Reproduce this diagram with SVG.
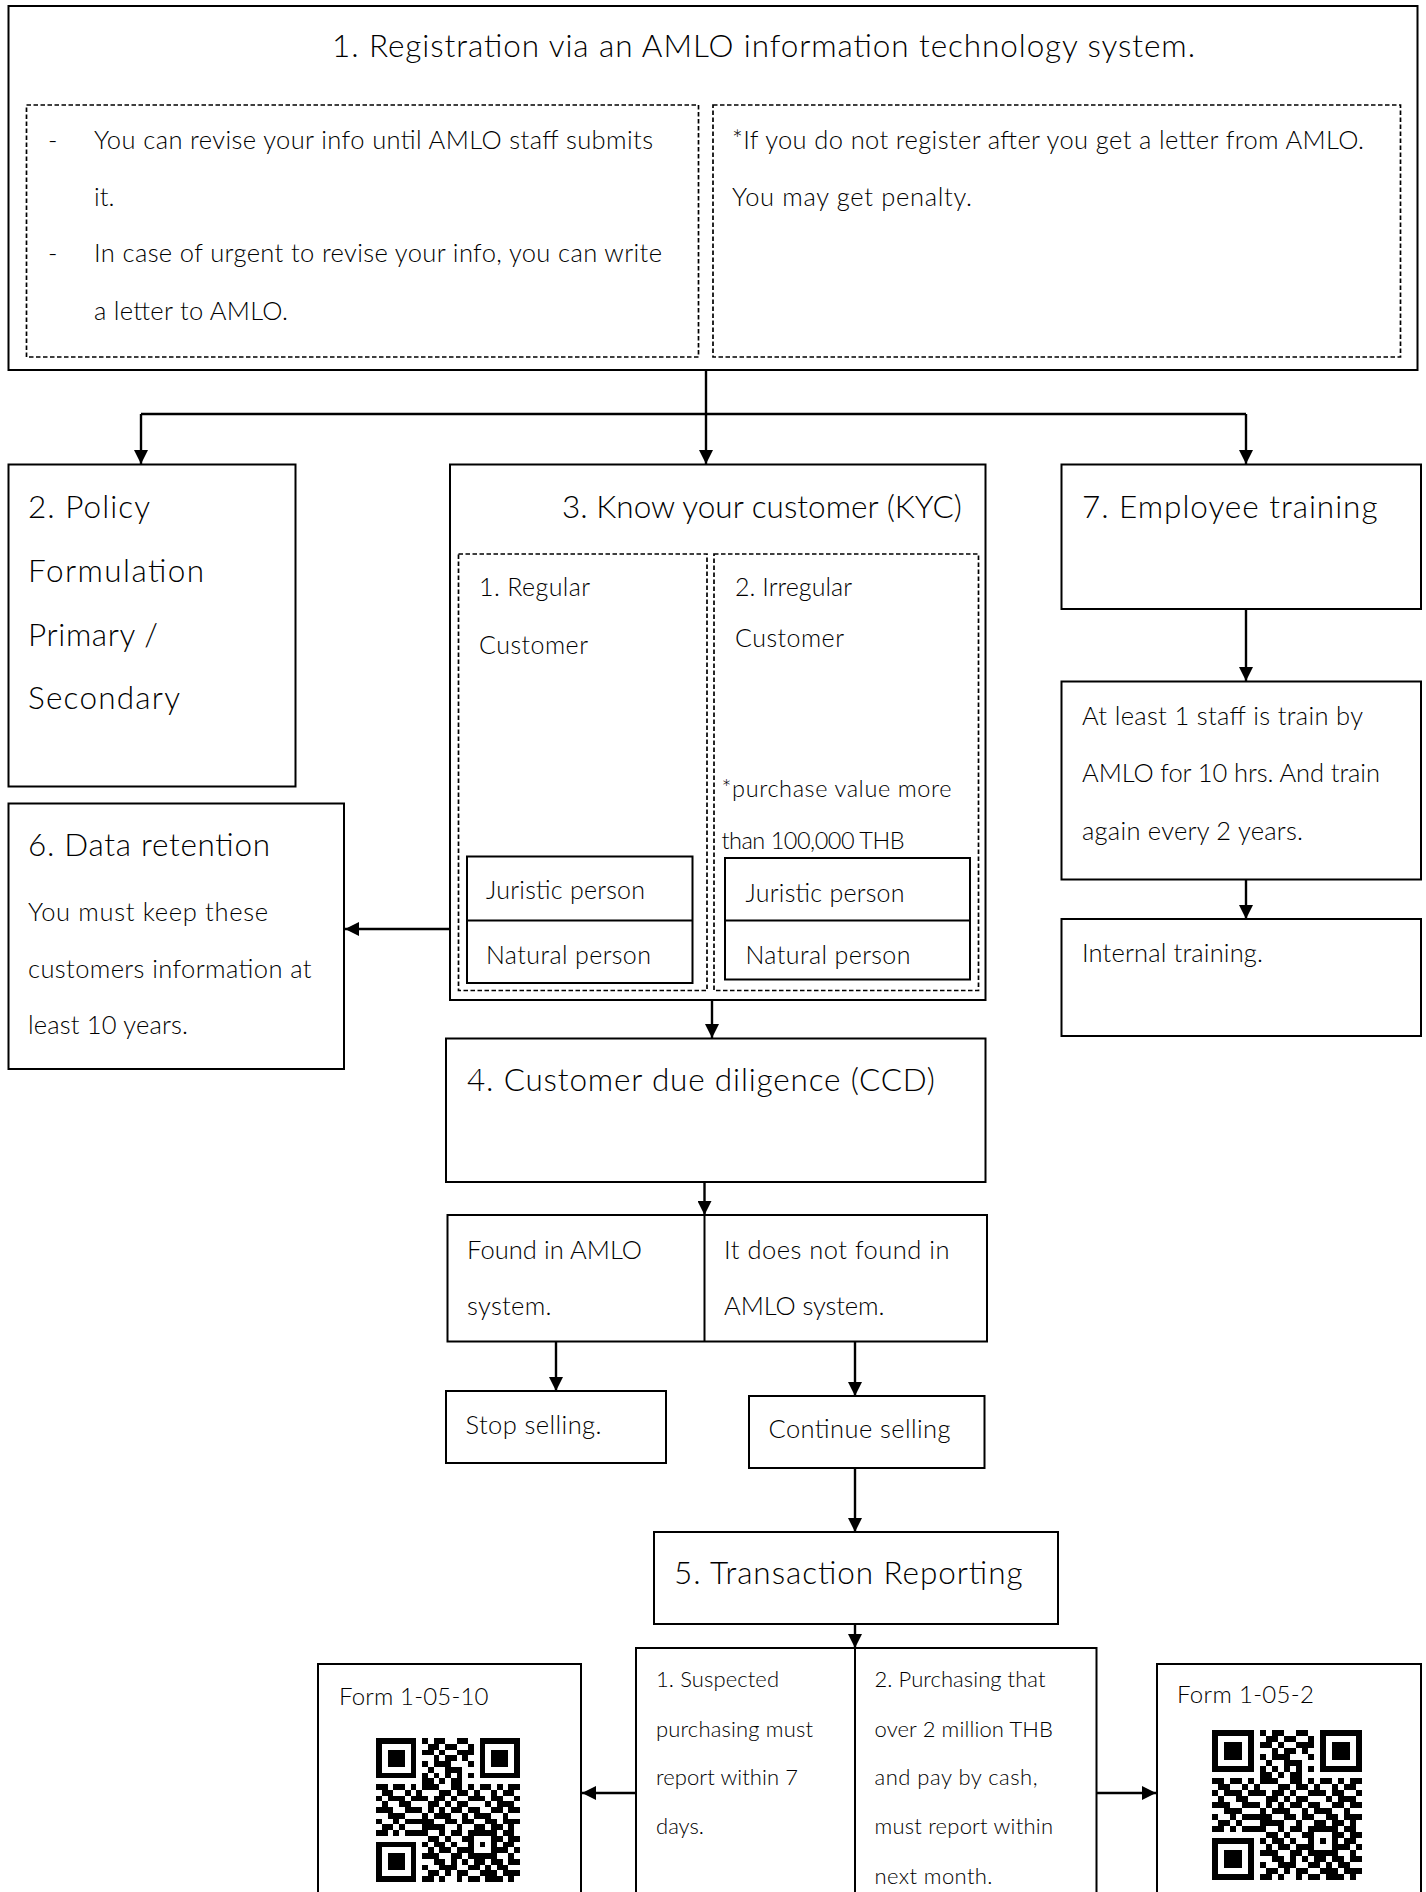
<svg xmlns="http://www.w3.org/2000/svg" xmlns:xlink="http://www.w3.org/1999/xlink" width="1426" height="1892" viewBox="0 0 1426 1892">
<style>
.box{fill:#fff;stroke:#000;stroke-width:2}
.nofill{fill:none;stroke:#000;stroke-width:2}
.dash{fill:none;stroke:#000;stroke-width:1.7;stroke-dasharray:4.5 2.5}
.conn{fill:none;stroke:#000;stroke-width:2.4}
.arr{marker-end:url(#arrow)}
text{font-family:Lato,"Noto Sans","DejaVu Sans",sans-serif;font-weight:300;fill:#000}
.t32{font-size:31.5px}
.tb{font-size:25.5px}
.t25{font-size:25px}
.t23{font-size:23.5px}
.t22{font-size:22px}
.t24{font-size:24px}
</style>
<defs>
<marker id="arrow" markerUnits="userSpaceOnUse" markerWidth="14" markerHeight="14" refX="14" refY="7" orient="auto">
<path d="M0,0 L14,7 L0,14 z" fill="#000"/>
</marker>
<g id="qr" shape-rendering="crispEdges" fill="#000">
<path d="M0 0h7v1h-7zM8 0h1v1h-1zM10 0h2v1h-2zM14 0h2v1h-2zM18 0h7v1h-7z
M0 1h1v1h-1zM6 1h1v1h-1zM9 1h2v1h-2zM12 1h2v1h-2zM16 1h1v1h-1zM18 1h1v1h-1zM24 1h1v1h-1z
M0 2h1v1h-1zM2 2h3v1h-3zM6 2h1v1h-1zM8 2h2v1h-2zM11 2h1v1h-1zM14 2h3v1h-3zM18 2h1v1h-1zM20 2h3v1h-3zM24 2h1v1h-1z
M0 3h1v1h-1zM2 3h3v1h-3zM6 3h1v1h-1zM10 3h1v1h-1zM12 3h2v1h-2zM15 3h1v1h-1zM18 3h1v1h-1zM20 3h3v1h-3zM24 3h1v1h-1z
M0 4h1v1h-1zM2 4h3v1h-3zM6 4h1v1h-1zM8 4h1v1h-1zM10 4h3v1h-3zM16 4h1v1h-1zM18 4h1v1h-1zM20 4h3v1h-3zM24 4h1v1h-1z
M0 5h1v1h-1zM6 5h1v1h-1zM9 5h1v1h-1zM12 5h3v1h-3zM18 5h1v1h-1zM24 5h1v1h-1z
M0 6h7v1h-7zM8 6h1v1h-1zM10 6h1v1h-1zM12 6h1v1h-1zM14 6h1v1h-1zM16 6h1v1h-1zM18 6h7v1h-7z
M8 7h2v1h-2zM11 7h1v1h-1zM13 7h2v1h-2z
M0 8h2v1h-2zM3 8h2v1h-2zM6 8h1v1h-1zM8 8h3v1h-3zM13 8h2v1h-2zM16 8h1v1h-1zM18 8h2v1h-2zM21 8h1v1h-1zM23 8h2v1h-2z
M1 9h2v1h-2zM5 9h1v1h-1zM7 9h1v1h-1zM11 9h2v1h-2zM14 9h2v1h-2zM17 9h1v1h-1zM20 9h1v1h-1zM22 9h2v1h-2z
M0 10h1v1h-1zM2 10h3v1h-3zM6 10h3v1h-3zM10 10h2v1h-2zM13 10h1v1h-1zM16 10h3v1h-3zM20 10h2v1h-2zM24 10h1v1h-1z
M1 11h1v1h-1zM4 11h2v1h-2zM9 11h2v1h-2zM12 11h1v1h-1zM14 11h2v1h-2zM19 11h1v1h-1zM21 11h3v1h-3z
M0 12h3v1h-3zM5 12h3v1h-3zM9 12h1v1h-1zM11 12h1v1h-1zM13 12h2v1h-2zM16 12h2v1h-2zM20 12h2v1h-2zM23 12h2v1h-2z
M2 13h3v1h-3zM8 13h1v1h-1zM10 13h3v1h-3zM15 13h1v1h-1zM17 13h3v1h-3zM22 13h1v1h-1z
M0 14h1v1h-1zM3 14h1v1h-1zM5 14h5v1h-5zM12 14h2v1h-2zM15 14h2v1h-2zM19 14h2v1h-2zM22 14h3v1h-3z
M1 15h2v1h-2zM4 15h1v1h-1zM8 15h4v1h-4zM14 15h1v1h-1zM17 15h2v1h-2zM20 15h2v1h-2zM23 15h1v1h-1z
M0 16h2v1h-2zM3 16h1v1h-1zM5 16h4v1h-4zM11 16h1v1h-1zM13 16h2v1h-2zM16 16h5v1h-5zM22 16h2v1h-2z
M9 17h2v1h-2zM12 17h1v1h-1zM15 17h2v1h-2zM20 17h2v1h-2zM23 17h2v1h-2z
M0 18h7v1h-7zM8 18h1v1h-1zM10 18h2v1h-2zM13 18h1v1h-1zM16 18h1v1h-1zM18 18h1v1h-1zM20 18h1v1h-1zM22 18h2v1h-2z
M0 19h1v1h-1zM6 19h1v1h-1zM9 19h1v1h-1zM11 19h2v1h-2zM14 19h3v1h-3zM20 19h3v1h-3zM24 19h1v1h-1z
M0 20h1v1h-1zM2 20h3v1h-3zM6 20h1v1h-1zM8 20h3v1h-3zM13 20h2v1h-2zM16 20h5v1h-5zM23 20h1v1h-1z
M0 21h1v1h-1zM2 21h3v1h-3zM6 21h1v1h-1zM10 21h2v1h-2zM13 21h1v1h-1zM15 21h1v1h-1zM17 21h2v1h-2zM20 21h2v1h-2zM23 21h2v1h-2z
M0 22h1v1h-1zM2 22h3v1h-3zM6 22h1v1h-1zM8 22h1v1h-1zM11 22h3v1h-3zM16 22h2v1h-2zM19 22h1v1h-1zM21 22h2v1h-2z
M0 23h1v1h-1zM6 23h1v1h-1zM9 23h2v1h-2zM12 23h1v1h-1zM14 23h2v1h-2zM18 23h3v1h-3zM22 23h3v1h-3z
M0 24h7v1h-7zM8 24h2v1h-2zM11 24h1v1h-1zM14 24h1v1h-1zM16 24h2v1h-2zM19 24h3v1h-3zM23 24h1v1h-1z"/>
</g>
</defs>
<rect width="1426" height="1892" fill="#fff"/>

<g id="connectors">
<path class="conn" d="M141 414H1246"/>
<path class="conn arr" d="M706 370V464"/>
<path class="conn arr" d="M141 414V464"/>
<path class="conn arr" d="M1246 414V464"/>
<path class="conn arr" d="M450 929H345"/>
<path class="conn arr" d="M1246 609V681"/>
<path class="conn arr" d="M1246 880V919"/>
<path class="conn arr" d="M712 1000V1038"/>
<path class="conn arr" d="M704.5 1182V1215"/>
<path class="conn arr" d="M556 1342V1391"/>
<path class="conn arr" d="M855 1342V1396"/>
<path class="conn arr" d="M855 1468V1532"/>
<path class="conn arr" d="M855 1624V1648"/>
<path class="conn arr" d="M636 1793H582"/>
<path class="conn arr" d="M1096.5 1793H1156"/>
</g>

<g id="node1">
<rect class="box" x="8.5" y="6" width="1409" height="364"/>
<text class="t32" x="332" y="57" textLength="863">1. Registration via an AMLO information technology system.</text>
<rect class="dash" x="26.5" y="105" width="672" height="252"/>
<rect class="dash" x="713" y="105" width="687.5" height="252"/>
<text class="tb" x="48" y="149">-</text>
<text class="tb" x="94" y="149" textLength="559">You can revise your info until AMLO staff submits</text>
<text class="tb" x="94" y="206">it.</text>
<text class="tb" x="48" y="262">-</text>
<text class="tb" x="94" y="262" textLength="568">In case of urgent to revise your info, you can write</text>
<text class="tb" x="94" y="320" textLength="194">a letter to AMLO.</text>
<text class="tb" x="732" y="149" textLength="632">*If you do not register after you get a letter from AMLO.</text>
<text class="tb" x="732" y="206" textLength="240">You may get penalty.</text>
</g>

<g id="node2">
<rect class="box" x="8.5" y="464.5" width="287" height="322"/>
<text class="t32" x="28" y="518" textLength="122">2. Policy</text>
<text class="t32" x="28" y="582" textLength="176">Formulation</text>
<text class="t32" x="28" y="646" textLength="130">Primary /</text>
<text class="t32" x="28" y="709" textLength="152">Secondary</text>
</g>

<g id="node3">
<rect class="box" x="450" y="464.5" width="535.5" height="535.5"/>
<text class="t32" x="562" y="518" textLength="400">3. Know your customer (KYC)</text>
<rect class="dash" x="458.5" y="554" width="248.5" height="436.5"/>
<rect class="dash" x="714" y="554" width="264.5" height="436.5"/>
<text class="t25" x="479" y="596" textLength="111">1. Regular</text>
<text class="t25" x="479" y="653.5" textLength="109">Customer</text>
<rect class="nofill" x="467" y="856.5" width="225.5" height="126.5"/>
<path class="nofill" d="M467 920.5H692.5"/>
<text class="t25" x="486" y="898.5" textLength="159">Juristic person</text>
<text class="t25" x="486" y="963.5" textLength="165">Natural person</text>
<text class="t25" x="735" y="596" textLength="117">2. Irregular</text>
<text class="t25" x="735" y="646.5" textLength="109">Customer</text>
<text class="t23" x="721.5" y="797" textLength="230">*purchase value more</text>
<text class="t23" x="721.5" y="849" textLength="183">than 100,000 THB</text>
<rect class="nofill" x="725" y="858" width="245" height="121.5"/>
<path class="nofill" d="M725 920.5H970"/>
<text class="t25" x="745.5" y="901.5" textLength="159">Juristic person</text>
<text class="t25" x="745.5" y="964" textLength="165">Natural person</text>
</g>

<g id="node6">
<rect class="box" x="8.5" y="803.5" width="335.5" height="265.5"/>
<text class="t32" x="28" y="855.5" textLength="242">6. Data retention</text>
<text class="tb" x="28" y="920.5" textLength="240">You must keep these</text>
<text class="tb" x="28" y="977.5" textLength="283.5">customers information at</text>
<text class="tb" x="28" y="1033.5" textLength="160">least 10 years.</text>
</g>

<g id="node7">
<rect class="box" x="1061.5" y="464.5" width="359.5" height="144.5"/>
<text class="t32" x="1082" y="518" textLength="295.5">7. Employee training</text>
</g>

<g id="node7a">
<rect class="box" x="1061.5" y="681.5" width="359.5" height="198"/>
<text class="tb" x="1082" y="725" textLength="281">At least 1 staff is train by</text>
<text class="tb" x="1082" y="782" textLength="298">AMLO for 10 hrs. And train</text>
<text class="tb" x="1082" y="839.5" textLength="221">again every 2 years.</text>
</g>

<g id="node7b">
<rect class="box" x="1061.5" y="919" width="359.5" height="117"/>
<text class="tb" x="1082" y="961.5" textLength="181">Internal training.</text>
</g>

<g id="node4">
<rect class="box" x="446" y="1038.5" width="539.5" height="143.5"/>
<text class="t32" x="467" y="1091" textLength="468">4. Customer due diligence (CCD)</text>
</g>

<g id="node4a">
<rect class="box" x="447.5" y="1215" width="539.5" height="126.5"/>
<path class="nofill" d="M704.5 1215V1341.5"/>
<text class="tb" x="467" y="1258.5" textLength="175">Found in AMLO</text>
<text class="tb" x="467" y="1315" textLength="84.5">system.</text>
<text class="tb" x="724" y="1258.5" textLength="225.5">It does not found in</text>
<text class="tb" x="724" y="1315" textLength="160.5">AMLO system.</text>
</g>

<g id="nodeStop">
<rect class="box" x="446" y="1391" width="220" height="72"/>
<text class="tb" x="465.5" y="1433.5" textLength="136">Stop selling.</text>
</g>

<g id="nodeContinue">
<rect class="box" x="749" y="1396" width="235.5" height="72"/>
<text class="tb" x="768.5" y="1438" textLength="182">Continue selling</text>
</g>

<g id="node5">
<rect class="box" x="654" y="1532" width="404" height="92"/>
<text class="t32" x="674" y="1584" textLength="348.5">5. Transaction Reporting</text>
</g>

<g id="node5a">
<rect class="box" x="636" y="1648" width="460.5" height="260"/>
<path class="nofill" d="M855 1648V1900"/>
<text class="t22" x="656" y="1686.5" textLength="123">1. Suspected</text>
<text class="t22" x="656" y="1736.5" textLength="157">purchasing must</text>
<text class="t22" x="656" y="1784.5" textLength="142">report within 7</text>
<text class="t22" x="656" y="1834" textLength="48">days.</text>
<text class="t22" x="874.5" y="1686.5" textLength="171">2. Purchasing that</text>
<text class="t22" x="874.5" y="1736.5" textLength="178.5">over 2 million THB</text>
<text class="t22" x="874.5" y="1784.5" textLength="163">and pay by cash,</text>
<text class="t22" x="874.5" y="1834" textLength="178.5">must report within</text>
<text class="t22" x="874.5" y="1883.5" textLength="118">next month.</text>
</g>

<g id="nodeForm10">
<rect class="box" x="318" y="1664" width="263" height="244"/>
<text class="t24" x="339" y="1705" textLength="149.5">Form 1-05-10</text>
<use xlink:href="#qr" transform="translate(376 1738) scale(5.75)"/>
</g>

<g id="nodeForm2">
<rect class="box" x="1157" y="1664" width="264" height="244"/>
<text class="t24" x="1177" y="1703" textLength="137">Form 1-05-2</text>
<use xlink:href="#qr" transform="translate(1212 1730) scale(6)"/>
</g>
</svg>
